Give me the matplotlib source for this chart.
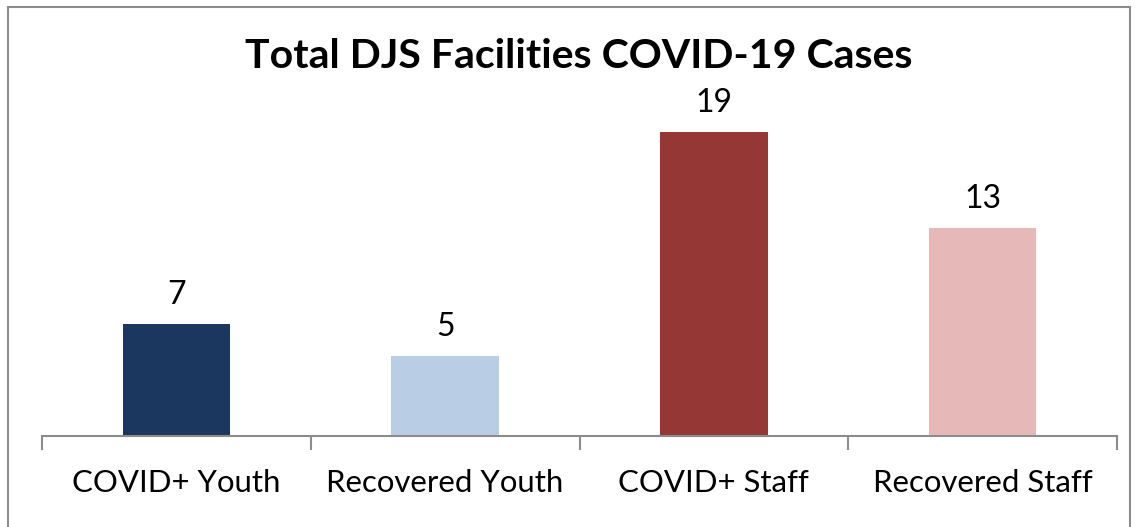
import matplotlib
matplotlib.use("Agg")
import matplotlib.pyplot as plt
from matplotlib.patches import Rectangle

categories = ["COVID+ Youth", "Recovered Youth", "COVID+ Staff", "Recovered Staff"]
values = [7, 5, 19, 13]
colors = ["#1B375F", "#B9CDE5", "#953735", "#E6B9B8"]
title = "Total DJS Facilities COVID-19 Cases"

W, H = 1137, 527
fig = plt.figure(figsize=(W / 100, H / 100), dpi=100)
plt.rcParams['font.family'] = ['Lato', 'DejaVu Sans']

# axes: x from 42 to 1117 px, y baseline 436, top 116 (0..20)
ax = fig.add_axes([42 / W, (H - 436) / H, (1117 - 42) / W, 320 / H])
x = list(range(len(categories)))
ax.bar(x, values, width=0.40, color=colors, zorder=2)
ax.set_xlim(-0.5, len(categories) - 0.5)
ax.set_ylim(0, 20)
for xi, v in zip(x, values):
    ax.text(xi, v + 1.25, str(v), ha="center", va="baseline", fontsize=23, color="black")

ax.set_yticks([])
ax.set_xticks([i - 0.5 for i in range(len(categories) + 1)], minor=False)
ax.set_xticklabels([])
ax.set_xticks(x, minor=True)
ax.set_xticklabels(categories, minor=True, fontsize=22.4)
ax.tick_params(axis="x", which="major", length=10, width=1.5, color="#8C8C8C", direction="out")
ax.tick_params(axis="x", which="minor", length=0, pad=24)
for s in ["top", "right", "left"]:
    ax.spines[s].set_visible(False)
ax.spines["bottom"].set_color("#8C8C8C")
ax.spines["bottom"].set_linewidth(1.5)

fig.text(579 / W, 1 - 68 / H, title, ha="center", va="baseline", fontsize=29.5, fontweight="bold")

# outer border
fig.patches.append(Rectangle((7.5 / W, -0.1), (1130 - 7.5) / W, 1.1 - 6.5 / H,
                             transform=fig.transFigure, fill=False,
                             edgecolor="#8C8C8C", linewidth=1.5))

fig.savefig("out.png", dpi=100)
